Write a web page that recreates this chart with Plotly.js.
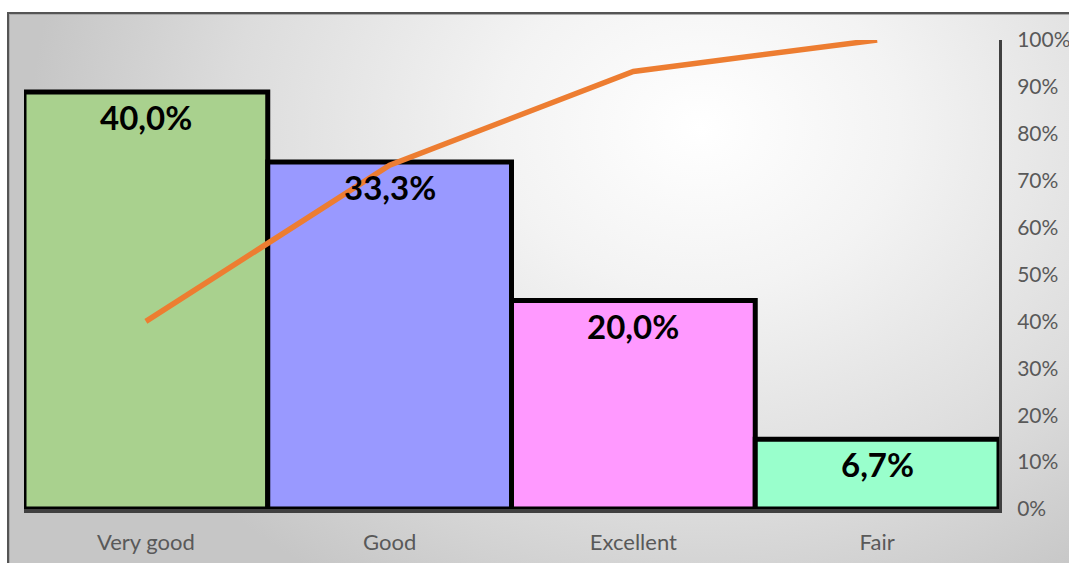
<!DOCTYPE html>
<html>
<head>
<meta charset="utf-8">
<script src="https://cdn.plot.ly/plotly-3.0.1.min.js"></script>
<style>
  html, body { margin: 0; padding: 0; background: #ffffff; width: 1069px; height: 563px; overflow: hidden; }
  #frame {
    position: absolute; left: 7px; top: 12px; width: 1080px; height: 570px;
    border-left: 2px solid #555; border-top: 2px solid #555;
    box-shadow: inset 1px 1px 0 #aaa;
    background: radial-gradient(ellipse 62% 95% at 64% 20%, #ffffff 0%, #f3f3f3 30%, #dcdcdc 70%, #c6c6c6 100%);
  }
  #chart { position: absolute; left: 0; top: 0; width: 1069px; height: 563px; }
</style>
</head>
<body>
<div id="frame"></div>
<div id="chart"></div>
<script>
const categories = ["Very good", "Good", "Excellent", "Fair"];
const percentages = [40.0, 33.3, 20.0, 6.7];
const cumulative = [40.0, 73.3, 93.3, 100.0];
const barColors = ["#A9D18E", "#9999FF", "#FF99FF", "#99FFCC"];
const rightTicks = [0, 10, 20, 30, 40, 50, 60, 70, 80, 90, 100];

const fmt = v => v.toFixed(1).replace('.', ',') + '%';

const bars = {
  type: 'bar', x: categories, y: percentages,
  marker: { color: barColors, line: { color: '#000000', width: 5 } },
  hoverinfo: 'skip', showlegend: false
};
const line = {
  type: 'scatter', mode: 'lines', x: categories, y: cumulative, yaxis: 'y2',
  line: { color: '#ED7D31', width: 5.5 },
  hoverinfo: 'skip', showlegend: false
};

const annotations = categories.map((c, i) => ({
  x: c, y: percentages[i], xref: 'x', yref: 'y',
  text: fmt(percentages[i]), showarrow: false,
  yanchor: 'middle', yshift: -25,
  font: { family: 'Lato, "Open Sans", sans-serif', size: 33, color: '#000000', weight: 'bold' }
}));

const layout = {
  width: 1069, height: 563,
  margin: { l: 24, r: 70, t: 40, b: 54 },
  paper_bgcolor: 'rgba(0,0,0,0)', plot_bgcolor: 'rgba(0,0,0,0)',
  bargap: 0,
  separators: ',.',
  font: { family: 'Lato, "Open Sans", sans-serif', color: '#595959', size: 22 },
  xaxis: {
    showline: true, linecolor: '#404040', linewidth: 4,
    showgrid: false, zeroline: false, ticks: '', ticklabelstandoff: 11,
    tickfont: { size: 22, color: '#595959' }
  },
  yaxis: { range: [0, 45], visible: false, showgrid: false, zeroline: false },
  yaxis2: {
    overlaying: 'y', side: 'right', range: [0, 100],
    tickvals: rightTicks, ticktext: rightTicks.map(v => v + '%'),
    showline: true, linecolor: '#404040', linewidth: 3,
    showgrid: false, zeroline: false, ticks: '', ticklabelstandoff: 11,
    tickfont: { size: 21, color: '#595959' }
  },
  annotations: annotations
};

Plotly.newPlot('chart', [bars, line], layout, { staticPlot: true, displayModeBar: false });
</script>
</body>
</html>
